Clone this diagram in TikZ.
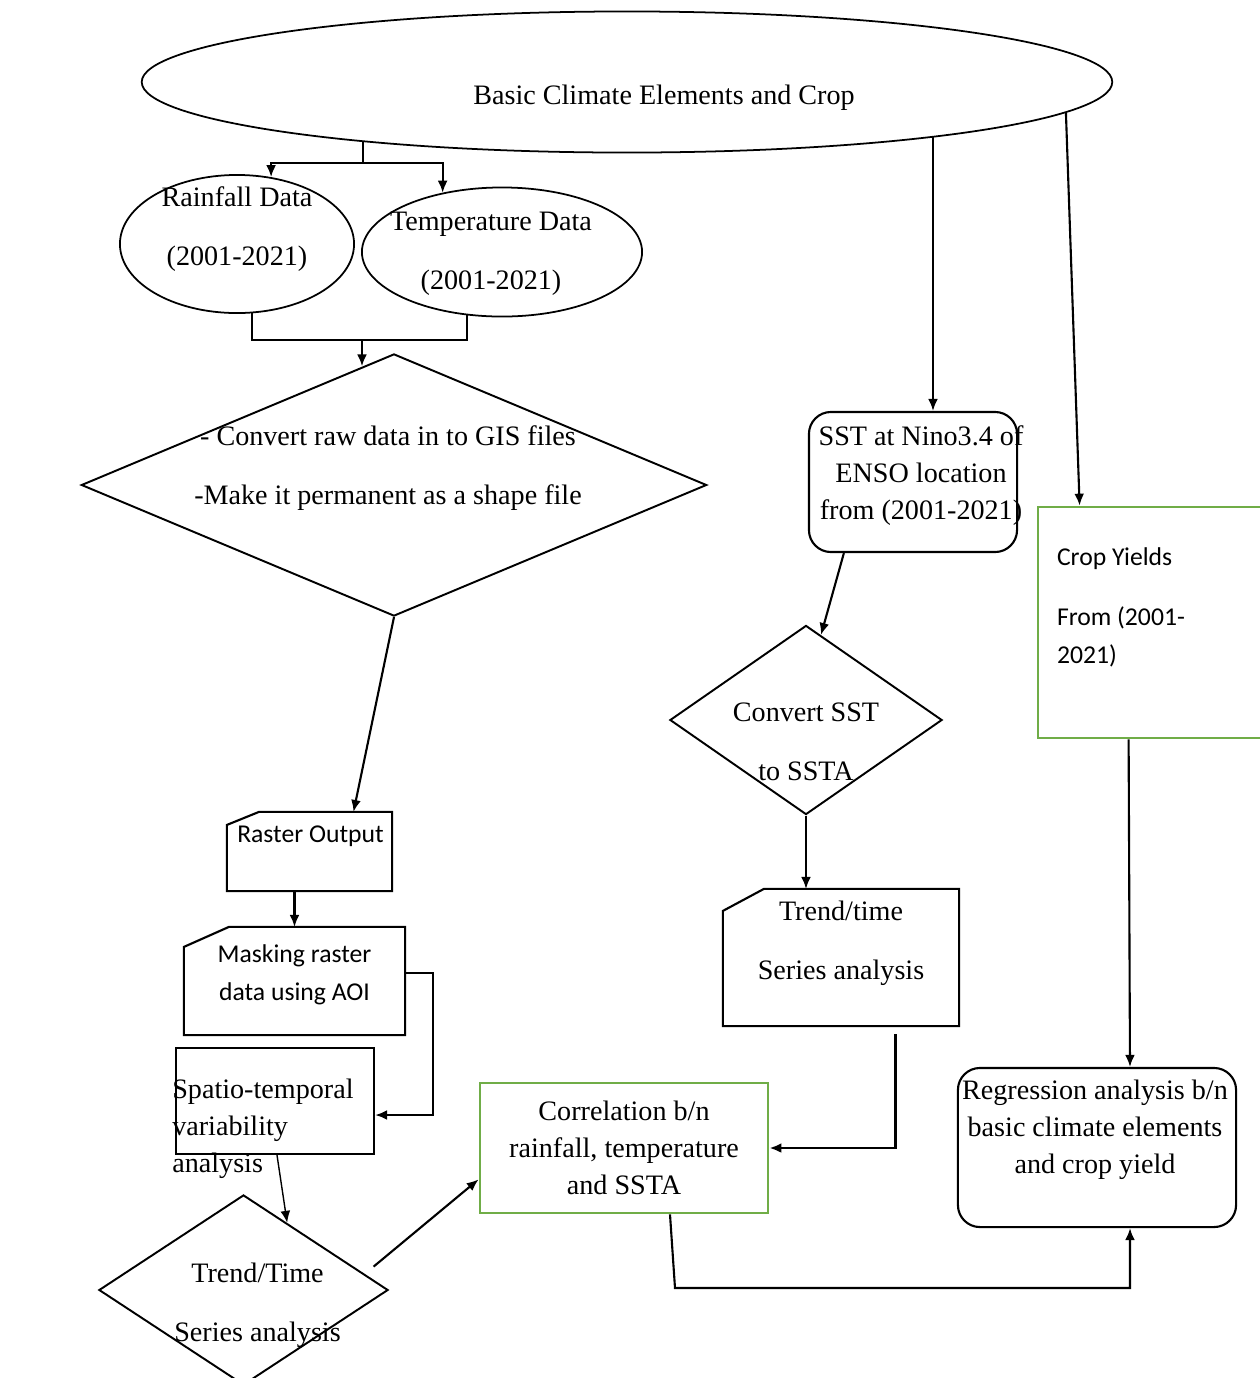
\documentclass[tikz,border=0pt]{standalone}
\usepackage{fontspec}
\setmainfont{Liberation Serif}
\newfontfamily\calib{Carlito}
\usepackage{tikz}
\usetikzlibrary{shapes.geometric,arrows.meta,calc}
\definecolor{cropgreen}{RGB}{112,173,71}

\tikzset{
  flow/.style={line width=0.6pt,-{Latex[length=3.4pt,width=2.8pt]}},
  plain/.style={line width=0.6pt},
  ser/.style={font=\fontsize{8}{10.5}\selectfont,align=center},
  serloose/.style={font=\fontsize{8}{16.8}\selectfont,align=center},
  sans/.style={font=\calib\fontsize{7.3}{10.8}\selectfont,align=center},
  oval/.style={draw,ellipse,line width=0.5pt,inner sep=0pt},
  decide/.style={draw,diamond,line width=0.55pt,inner sep=0pt},
  box/.style={draw,rectangle,line width=0.6pt,inner sep=0pt},
  cutbox/.style={box,draw=none},
  greenbox/.style={box,draw=cropgreen,line width=0.75pt},
  roundbox/.style={box,rounded corners=0.22cm}
}

% box with the top left corner cut off
\newcommand\cutcorner[3]{\draw[line width=0.6pt] ($(#1.north west)+(0,#3)$) -- ($(#1.north west)+(#2,0)$)
  -- (#1.north east) -- (#1.south east) -- (#1.south west) -- cycle;}

\begin{document}
\begin{tikzpicture}[x=0.01cm,y=-0.01cm]
\useasboundingbox (0,0) rectangle (1259,1378);

% sources
\node[oval,minimum width=9.7cm,minimum height=1.41cm,
  label={[serloose,shift={(37,16)}]center:Basic Climate Elements and Crop}] (basic) at (627,82) {};
\node[oval,minimum width=2.34cm,minimum height=1.38cm,
  label={[serloose,shift={(0,-15)}]center:Rainfall Data\\(2001-2021)}] (rain) at (237,244) {};
\node[oval,minimum width=2.8cm,minimum height=1.29cm,
  label={[serloose,shift={(-11,2)}]center:Temperature Data\\(2001-2021)}] (temp) at (502,252) {};

% left branch
\node[decide,minimum width=6.25cm,minimum height=2.62cm,
  label={[serloose,shift={(-6,-17)}]center:- Convert raw data in to GIS files\\-Make it permanent as a shape file}] (gis) at (394,485) {};
\node[cutbox,minimum width=1.63cm,minimum height=0.77cm,
  label={[sans,shift={(1,-15)}]center:Raster Output}] (raster) at (309.5,851.5) {};
\cutcorner{raster}{32}{13}
\node[cutbox,minimum width=2.19cm,minimum height=1.06cm,
  label={[sans,shift={(0,-6)}]center:Masking raster\\data using AOI}] (mask) at (294.5,981) {};
\cutcorner{mask}{45}{20}
\node[box,minimum width=1.98cm,minimum height=1.06cm,
  label={[ser,align=left,anchor=west,shift={(-15,28)}]west:Spatio-temporal\\variability\\analysis}] (spatio) at (275,1101) {};
\node[decide,minimum width=2.89cm,minimum height=1.9cm,
  label={[serloose,shift={(14,15)}]center:Trend/Time\\Series analysis}] (trendT) at (243.5,1290) {};

% SST branch
\node[roundbox,minimum width=2.08cm,minimum height=1.4cm,
  label={[ser,shift={(8,-6)}]center:SST at Nino3.4 of\\ENSO location\\from (2001-2021)}] (sst) at (913,482) {};
\node[decide,minimum width=2.72cm,minimum height=1.89cm,
  label={[serloose,shift={(0,22)}]center:Convert SST\\to SSTA}] (conv) at (806,720) {};
\node[cutbox,minimum width=2.34cm,minimum height=1.35cm,
  label={[serloose,shift={(0,-14)}]center:Trend/time\\Series analysis}] (trendS) at (841,957.5) {};
\cutcorner{trendS}{41}{22}

% crop branch and results
\node[greenbox,minimum width=2.27cm,minimum height=2.31cm,
  label={[sans,align=left,anchor=west,shift={(8,-15)}]west:Crop Yields\\[6.2pt]From (2001-\\2021)}] (crop) at (1151.5,622.5) {};
\node[greenbox,ser,minimum width=2.88cm,minimum height=1.3cm] (corr) at (624,1148) {Correlation b/n\\rainfall, temperature\\and SSTA};
\node[roundbox,minimum width=2.78cm,minimum height=1.59cm,
  label={[ser,shift={(-2,-18)}]center:Regression analysis b/n\\basic climate elements\\and crop yield}] (regr) at (1097,1147.5) {};

\coordinate (split) at (363,163);
\coordinate (join) at (362,340);
\coordinate (low) at (675,1288);
\coordinate (sstin) at ($(sst.north)+(20,0)$);

% connectors
\draw[plain] (basic.193 -| split) -- (split);
\draw[flow] (split) -| (rain.63);
\draw[flow] (split) -| (temp.135);
\draw[plain] (rain.282) |- (join) -| (temp.241);
\draw[flow] (join) -- (join |- gis.105);
\draw[flow] (gis.south) -- ($(raster.north)+(44,0)$);
\draw[flow] (raster.south -| mask.north) -- (mask.north);
\draw[flow] ($(mask.east)+(0,-8)$) -- ++(28,0) |- ($(spatio.east)+(0,14)$);
\draw[flow,line width=0.4pt] ($(spatio.south)+(2,0)$) -- (trendT.57);
\draw[flow] ($(trendT.12)+(20,0)$) -- ($(corr.south west)+(0,-35)$);

\draw[flow] (basic.350 -| sstin) -- (sstin);
\draw[flow] ($(sst.south west)+(36,0)$) -- (conv.80);
\draw[flow] (conv.south) -- (conv.south |- trendS.north);
\draw[flow,line width=0.8pt] ($(trendS.south west)+(173,8)$) |- (corr.east);

\draw[flow] (basic.356) -- ($(crop.north west)+(43,0)$);
\draw[flow] ($(crop.south west)+(92,0)$) -- ($(regr.north)+(33,0)$);
\draw[flow] ($(corr.south)+(46,0)$) -- (low) -| ($(regr.south)+(33,0)$);
\end{tikzpicture}
\end{document}
